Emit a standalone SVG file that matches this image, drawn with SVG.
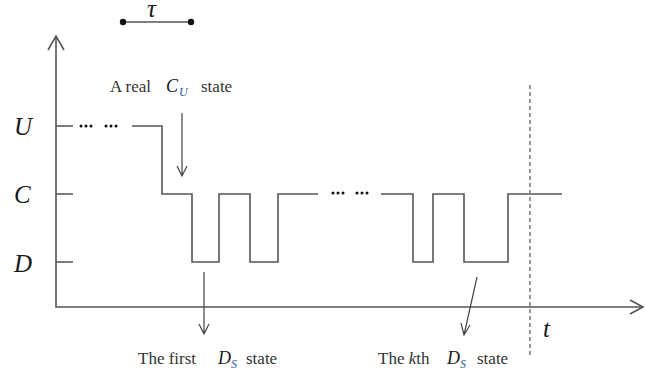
<svg xmlns="http://www.w3.org/2000/svg" width="645" height="376" viewBox="0 0 645 376">
<style>
.ln{stroke:#555;stroke-width:1.6;fill:none}
.ar{stroke:#444;stroke-width:1.2;fill:none}
.lbl{font-family:"Liberation Serif",serif;font-size:17px;fill:#333}
.var{font-family:"Liberation Serif",serif;font-style:italic;fill:#1a1a1a}
.sub{font-family:"Liberation Serif",serif;font-style:italic;font-size:12px;fill:#2a5aa0}
</style>
<rect width="645" height="376" fill="#fff"/>
<g id="axes">
<path class="ln" d="M56,36 V307 H643"/>
<path class="ln" d="M48,50 L56,36 L64,50"/>
<path class="ln" d="M630,300 L643,307 L630,314"/>
<path class="ln" d="M56,126 H73 M56,194 H73 M56,262 H73"/>
<text class="var" x="14" y="135" font-size="25">U</text>
<text class="var" x="14" y="203" font-size="25">C</text>
<text class="var" x="14" y="272" font-size="25">D</text>
<text class="var" x="543" y="337" font-size="25">t</text>
</g>
<g id="tau">
<line class="ln" x1="123" y1="22" x2="191" y2="22"/>
<circle cx="123" cy="22" r="3.2" fill="#111"/>
<circle cx="191" cy="22" r="3.2" fill="#111"/>
<text class="var" x="147" y="17" font-size="25">τ</text>
</g>
<g id="signal">
<path class="ln" d="M132,126 H162 V194 H192 V262 H219 V194 H250 V262 H278 V194 H318"/>
<path class="ln" d="M381,194 H413 V262 H433 V194 H464 V262 H508 V194 H562"/>
<g fill="#111">
<circle cx="81" cy="126" r="1.5"/><circle cx="86" cy="126" r="1.5"/><circle cx="91" cy="126" r="1.5"/>
<circle cx="106" cy="126" r="1.5"/><circle cx="111" cy="126" r="1.5"/><circle cx="116" cy="126" r="1.5"/>
<circle cx="333" cy="193" r="1.5"/><circle cx="338" cy="193" r="1.5"/><circle cx="343" cy="193" r="1.5"/>
<circle cx="357" cy="193" r="1.5"/><circle cx="362" cy="193" r="1.5"/><circle cx="367" cy="193" r="1.5"/>
</g>
</g>
<g id="cutoff">
<line x1="530" y1="85" x2="530" y2="357" stroke="#777" stroke-width="1.5" stroke-dasharray="4,3"/>
</g>
<g id="connectors">
<path class="ar" d="M182,113 V176 M177,166 L182,176 L187,166"/>
<path class="ar" d="M204,272 V334 M199,324 L204,334 L209,324"/>
<path class="ar" d="M477,277 L464,335 M461,323 L464,335 L470,325"/>
</g>
<g id="label-cu">
<text class="lbl" x="110" y="92">A real</text>
<text class="var" x="166" y="92" font-size="18">C</text>
<text class="sub" x="179" y="96">U</text>
<text class="lbl" x="201" y="92">state</text>
</g>
<g id="label-first">
<text class="lbl" x="138" y="364">The first</text>
<text class="var" x="218" y="364" font-size="18">D</text>
<text class="sub" x="231" y="368">S</text>
<text class="lbl" x="246" y="364">state</text>
</g>
<g id="label-kth">
<text class="lbl" x="378" y="364">The <tspan font-style="italic">k</tspan>th</text>
<text class="var" x="447" y="364" font-size="18">D</text>
<text class="sub" x="460" y="368">S</text>
<text class="lbl" x="477" y="364">state</text>
</g>
</svg>
